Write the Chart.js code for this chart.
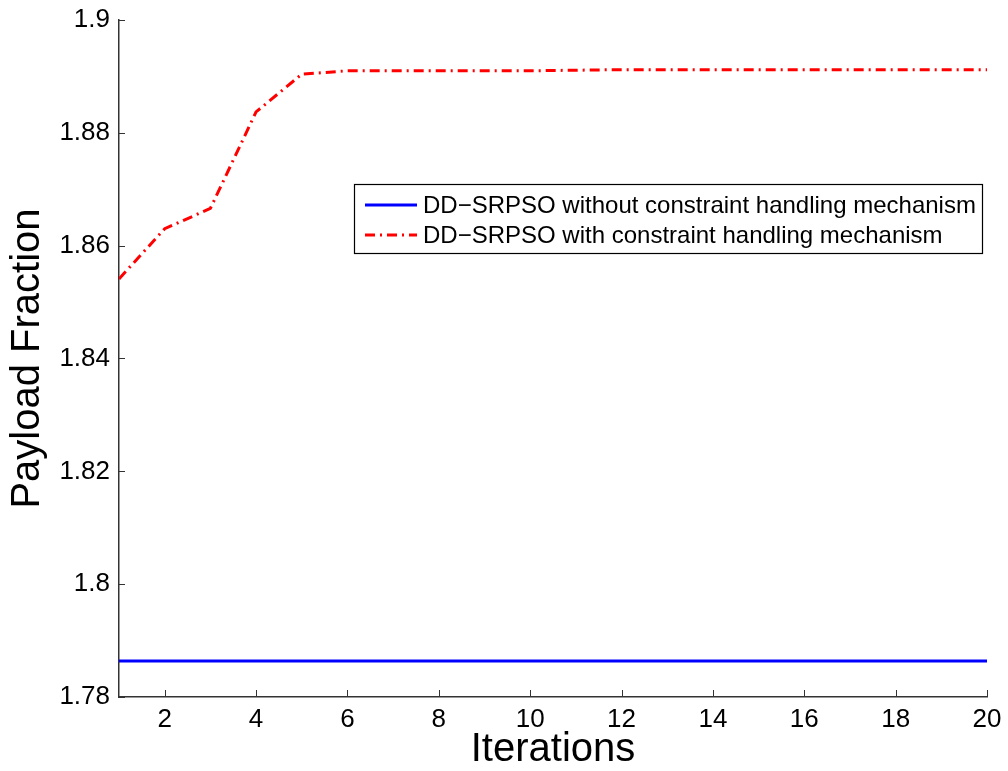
<!DOCTYPE html>
<html>
<head>
<meta charset="utf-8">
<script src="https://cdn.jsdelivr.net/npm/chart.js@4/dist/chart.umd.min.js"></script>
<style>
  body { margin: 0; background: #fff; }
  canvas { display: block; }
</style>
</head>
<body>
<canvas id="payloadChart" width="1008" height="771"></canvas>
<script>
  // iterations 1..20
  const iterations = [1, 2, 3, 4, 5, 6, 7, 8, 9, 10, 11, 12, 13, 14, 15, 16, 17, 18, 19, 20];
  const withoutConstraint = [1.7864, 1.7864, 1.7864, 1.7864, 1.7864, 1.7864, 1.7864, 1.7864, 1.7864, 1.7864,
                             1.7864, 1.7864, 1.7864, 1.7864, 1.7864, 1.7864, 1.7864, 1.7864, 1.7864, 1.7864];
  const withConstraint = [1.8541, 1.8630, 1.8666, 1.8837, 1.8904, 1.8910, 1.8910, 1.8910, 1.8910, 1.8910,
                          1.8911, 1.8912, 1.8912, 1.8912, 1.8912, 1.8912, 1.8912, 1.8912, 1.8912, 1.8912];
  const xTicks = [2, 4, 6, 8, 10, 12, 14, 16, 18, 20];
  const yTicks = [1.78, 1.80, 1.82, 1.84, 1.86, 1.88, 1.90];
  const seriesNames = ['DD\u2212SRPSO without constraint handling mechanism',
                       'DD\u2212SRPSO with constraint handling mechanism'];

  const FONT = 'Arial, "Liberation Sans", Helvetica, sans-serif';
  const AXIS_COLOR = '#333';

  const toPoints = (vals) => vals.map((v, i) => ({ x: iterations[i], y: v }));

  // MATLAB style ticks pointing into the plot
  const inwardTicks = {
    id: 'inwardTicks',
    afterDatasetsDraw(chart) {
      const { ctx, scales: { x, y } } = chart;
      ctx.save();
      ctx.strokeStyle = AXIS_COLOR;
      ctx.lineWidth = 1;
      ctx.beginPath();
      xTicks.forEach(t => {
        const px = Math.round(x.getPixelForValue(t)) + 0.5;
        ctx.moveTo(px, y.bottom);
        ctx.lineTo(px, y.bottom - 7);
      });
      yTicks.forEach(t => {
        const py = Math.round(y.getPixelForValue(t)) + 0.5;
        ctx.moveTo(x.left, py);
        ctx.lineTo(x.left + 6, py);
      });
      ctx.stroke();
      ctx.restore();
    }
  };

  // boxed legend inside the axes
  const boxLegend = {
    id: 'boxLegend',
    afterDraw(chart) {
      const { ctx, chartArea } = chart;
      const left = chartArea.left + 235, top = chartArea.top + 164;
      const w = 628, h = 69;
      ctx.save();
      ctx.fillStyle = '#fff';
      ctx.fillRect(left, top, w, h);
      ctx.strokeStyle = '#000';
      ctx.lineWidth = 1.2;
      ctx.strokeRect(left + 0.5, top + 0.5, w, h);
      ctx.font = '24px ' + FONT;
      ctx.textBaseline = 'middle';
      chart.data.datasets.forEach((ds, i) => {
        const cy = top + 21 + i * 30;
        ctx.strokeStyle = ds.borderColor;
        ctx.lineWidth = ds.borderWidth;
        ctx.setLineDash(ds.borderDash || []);
        ctx.beginPath();
        ctx.moveTo(left + 11, cy);
        ctx.lineTo(left + 63, cy);
        ctx.stroke();
        ctx.setLineDash([]);
        ctx.fillStyle = '#000';
        ctx.fillText(ds.label, left + 69, cy + 1);
      });
      ctx.restore();
    }
  };

  new Chart(document.getElementById('payloadChart').getContext('2d'), {
    type: 'line',
    data: {
      datasets: [
        {
          label: seriesNames[0],
          data: toPoints(withoutConstraint),
          borderColor: '#0000FF',
          borderWidth: 3,
          pointRadius: 0,
          tension: 0
        },
        {
          label: seriesNames[1],
          data: toPoints(withConstraint),
          borderColor: '#FF0000',
          borderWidth: 3,
          borderDash: [10, 5, 2, 5],
          pointRadius: 0,
          tension: 0
        }
      ]
    },
    options: {
      responsive: false,
      animation: false,
      layout: { padding: { top: 20, right: 21, left: 0, bottom: 0 } },
      plugins: {
        legend: { display: false },
        tooltip: { enabled: false }
      },
      scales: {
        x: {
          type: 'linear',
          min: 1,
          max: 20,
          afterBuildTicks: (scale) => { scale.ticks = xTicks.map(v => ({ value: v })); },
          afterFit: (scale) => { scale.height = 74; scale.paddingRight = 0; },
          grid: { display: true, drawOnChartArea: false, drawTicks: false },
          border: { display: true, color: AXIS_COLOR, width: 1.5 },
          ticks: { color: '#000', padding: 7, font: { family: FONT, size: 26 } },
          title: {
            display: true,
            text: 'Iterations',
            color: '#000',
            font: { family: FONT, size: 40 },
            padding: { top: 0, bottom: -3 }
          }
        },
        y: {
          type: 'linear',
          min: 1.78,
          max: 1.9,
          afterBuildTicks: (scale) => { scale.ticks = yTicks.map(v => ({ value: v })); },
          afterFit: (scale) => { scale.width = 119; scale.paddingTop = 0; scale.paddingBottom = 0; },
          grid: { display: true, drawOnChartArea: false, drawTicks: false },
          border: { display: true, color: AXIS_COLOR, width: 1.5 },
          ticks: {
            color: '#000',
            padding: 9,
            font: { family: FONT, size: 26 },
            callback: (v) => String(Number(v.toFixed(2)))
          },
          title: {
            display: true,
            text: 'Payload Fraction',
            color: '#000',
            font: { family: FONT, size: 40 },
            padding: { top: 4, bottom: 4 }
          }
        }
      }
    },
    plugins: [inwardTicks, boxLegend]
  });
</script>
</body>
</html>
